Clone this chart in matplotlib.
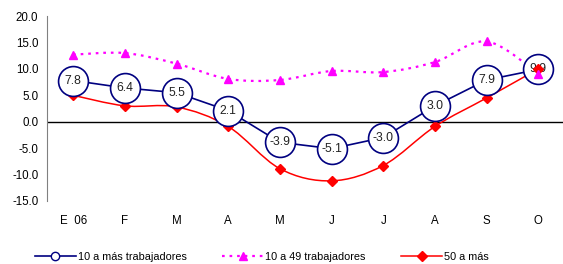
import matplotlib
matplotlib.use("Agg")
import matplotlib.pyplot as plt
from matplotlib.path import Path
from matplotlib.patches import PathPatch
from matplotlib.lines import Line2D

plt.rcParams["font.family"] = ["Liberation Sans", "DejaVu Sans"]

months = ["E  06", "F", "M", "A", "M", "J", "J", "A", "S", "O"]
total_10_mas = [7.8, 6.4, 5.5, 2.1, -3.9, -5.1, -3.0, 3.0, 7.9, 9.9]
de_10_a_49 = [12.7, 13.0, 11.0, 8.1, 7.9, 9.6, 9.4, 11.3, 15.2, 9.1]
de_50_mas = [5.0, 3.0, 2.8, -0.9, -8.9, -11.2, -8.3, -0.9, 4.5, 10.0]

NAVY, PINK, RED = "#000080", "#ff00ff", "#ff0000"


def smooth_path(xs, ys):
    # Bezier segments through the data points (Excel-style smoothed line)
    pts = list(zip(xs, ys))
    verts, codes = [pts[0]], [Path.MOVETO]
    n = len(pts)
    for i in range(n - 1):
        p0 = pts[i - 1] if i > 0 else pts[i]
        p1, p2 = pts[i], pts[i + 1]
        p3 = pts[i + 2] if i + 2 < n else pts[i + 1]
        c1 = (p1[0] + (p2[0] - p0[0]) / 6, p1[1] + (p2[1] - p0[1]) / 6)
        c2 = (p2[0] - (p3[0] - p1[0]) / 6, p2[1] - (p3[1] - p1[1]) / 6)
        verts += [c1, c2, p2]
        codes += [Path.CURVE4] * 3
    return Path(verts, codes)


x = list(range(len(months)))
fig = plt.figure(figsize=(5.63, 2.64), dpi=100)
ax = fig.add_axes([0.084, 0.239, 0.918, 0.70])

ax.axhline(0, color="black", lw=1.0, zorder=1)

# 10 a 49: dotted smoothed
ax.add_patch(PathPatch(smooth_path(x, de_10_a_49), fill=False, edgecolor=PINK,
                       lw=1.6, linestyle=(0, (1.2, 2.2)), zorder=2))
ax.plot(x, de_10_a_49, ls="none", marker="^", color=PINK, ms=6, zorder=3)

# 50 a más: smoothed solid
ax.add_patch(PathPatch(smooth_path(x, de_50_mas), fill=False, edgecolor=RED,
                       lw=1.1, zorder=2))
ax.plot(x, de_50_mas, ls="none", marker="D", color=RED, ms=5, zorder=3)

# 10 a más: straight with big circles and labels
ax.plot(x, total_10_mas, "-", color=NAVY, lw=1.2, marker="o", ms=21.5,
        mfc="white", mec=NAVY, mew=1.2, zorder=4)
for xi, v in zip(x, total_10_mas):
    ax.text(xi, v, f"{v:.1f}", ha="center", va="center", fontsize=8.7,
            color="#222222", zorder=5)
ax.plot(x[-1], de_50_mas[-1], ls="none", marker="D", color=RED, ms=5, zorder=6)
ax.plot(x[-1], de_10_a_49[-1], ls="none", marker="^", color=PINK, ms=6, zorder=6)

ax.set_xlim(-0.5, len(months) - 0.5)
ax.set_ylim(-15, 20)
yt = [-15, -10, -5, 0, 5, 10, 15, 20]
ax.set_yticks(yt)
ax.set_yticklabels([f"{t:.1f}" for t in yt])
ax.set_xticks(x)
ax.set_xticklabels(months)
ax.tick_params(axis="x", length=0, pad=10, labelsize=8.3)
ax.tick_params(axis="y", length=0, pad=6.5, labelsize=8.3)
for s in ["top", "right", "bottom"]:
    ax.spines[s].set_visible(False)
ax.spines["left"].set_color("#808080")

handles = [
    Line2D([], [], color=NAVY, lw=1.2, marker="o", ms=6, mfc="white", mec=NAVY),
    Line2D([], [], color=PINK, lw=1.6, ls=(0, (1.2, 2.2)), marker="^", ms=6),
    Line2D([], [], color=RED, lw=1.1, marker="D", ms=5),
]
fig.legend(handles, ["10 a más trabajadores", "10 a 49 trabajadores", "50 a más"],
           loc="center", bbox_to_anchor=(0.465, 0.028), ncol=3, frameon=False,
           fontsize=7.8, handlelength=3.8, columnspacing=3.3, handletextpad=0.15)

fig.savefig("out.png", dpi=100)
